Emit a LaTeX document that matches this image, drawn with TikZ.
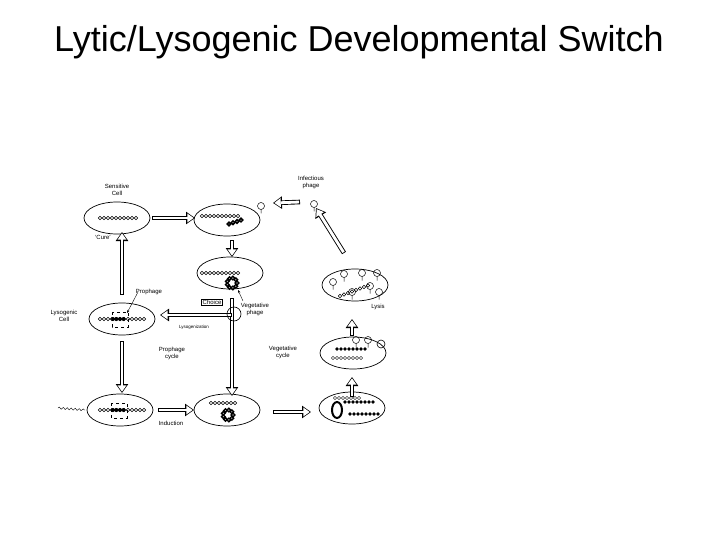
\documentclass[tikz,border=0pt]{standalone}
\usepackage{fontspec}
\setmainfont{Liberation Sans}
\usetikzlibrary{arrows.meta,shapes.geometric,decorations.pathmorphing,calc}
\newcommand\harrow[2]{%
 \draw[line width=4.6pt,-{Triangle[width=12pt,length=9pt]}] #1 -- #2;
 \draw[line width=2.8pt,white,shorten >=1.3pt,shorten <=0.9pt,-{Triangle[width=8.6pt,length=6.4pt]}] #1 -- #2;}
\newcommand\dna[3]{\foreach \i in {0,...,#3}{\draw[line width=0.5pt] ($(#1)+(\i*4,0)$) circle[radius=1.7pt];}}
\newcommand\phg[1]{\draw[line width=0.5pt] (#1) circle[radius=3.5pt] ++(0,3.5) -- ++(0,4);}
\tikzset{cell/.style={draw,ellipse,line width=0.7pt,minimum width=66pt,minimum height=32pt},
lab/.style={font=\fontsize{6}{7}\selectfont,align=center,inner sep=0.5pt}}
\begin{document}
\begin{tikzpicture}[x=1pt,y=-1pt]
\useasboundingbox (0,0) rectangle (720,540);
\node (title) at (359,42) {\fontsize{36}{40}\selectfont Lytic/Lysogenic Developmental Switch};
\node[cell] (e1) at (117,218) {};
\node[cell] (e2) at (227,220) {};
\node[cell] (e3) at (230,273) {};
\node[cell] (e4) at (122,319) {};
\node[cell] (e5) at (120,410) {};
\node[cell] (e6) at (227,410) {};
\node[cell] (e7) at (352,408) {};
\node[cell] (e8) at (353,353) {};
\node[cell] (e9) at (355,285) {};
% DNA
\dna{100,218}{}{9}
\dna{202,216}{}{9}
\dna{202,273}{}{9}
\dna{100,319}{}{11}
\dna{100,410}{}{11}
\dna{211,403}{}{6}
\foreach \i in {0,...,3}{\draw[line width=1.5pt] ($(229,224)+(\i*4,-\i*1.3)$) circle[radius=1.8pt];}
\foreach \a in {0,40,...,320}{\draw[line width=1.4pt] ($(232,283)+(\a:5)$) circle[radius=1.8pt];}
\foreach \a in {0,40,...,320}{\draw[line width=1.4pt] ($(228,415)+(\a:5)$) circle[radius=1.8pt];}
\foreach \i in {0,...,3}{\fill ($(113,319)+(\i*3.5,0)$) circle[radius=2pt]; \fill ($(113,410)+(\i*3.5,0)$) circle[radius=2pt];}
\draw[dashed,line width=0.5pt] (112,312) rectangle (128,327);
\draw[dashed,line width=0.5pt] (111,403) rectangle (127,418);
% right cells contents
\foreach \i in {0,...,7}{\draw[line width=0.6pt] ($(340,296)+(\i*4,-\i*1.5)$) circle[radius=1.7pt];}
\foreach \p in {{344,274},{362,273},{377,273},{333,282},{370,286},{352,292},{379,292}}{\phg{\p}}
\foreach \i in {0,...,7}{\fill ($(337,348)+(\i*4,1)$) circle[radius=1.8pt]; \draw ($(333,358)+(\i*4,0)$) circle[radius=1.7pt];}
\foreach \p in {{356,340},{368,340}}{\phg{\p}}
\draw[line width=0.6pt] (381,344) circle[radius=4pt];
\foreach \i in {0,...,7}{\fill ($(345,402)+(\i*4,0)$) circle[radius=1.8pt]; \fill ($(350,414)+(\i*4,0)$) circle[radius=1.8pt];}
\draw[line width=2pt] (337,410) ellipse[x radius=5pt,y radius=8pt];
\foreach \i in {0,...,6}{\draw ($(335,398)+(\i*4,0)$) circle[radius=1.6pt];}
\phg{314,204}
\phg{261,206}
% arrows
\harrow{(152,218)}{(195,218)}
\harrow{(300,202)}{(273,203)}
\harrow{(232,240)}{(232,257)}
\harrow{(122,295)}{(122,232)}
\harrow{(122,341)}{(122,393)}
\harrow{(158,410)}{(194,410)}
\harrow{(273,412)}{(311,412)}
\harrow{(352,397)}{(352,377)}
\harrow{(352,336)}{(352,319)}
\harrow{(344,253)}{(316,208)}
\harrow{(232,298)}{(232,396)}
\harrow{(232,315)}{(160,315)}
\draw[line width=0.6pt] (234,314) circle[radius=7pt];
\draw[decorate,decoration={snake,amplitude=1pt,segment length=4pt}] (58,408) -- (85,410);
% labels
\node[lab] (s) at (117,190) {Sensitive\\Cell};
\node[lab] (ip) at (311,182) {Infectious\\phage};
\node[lab] (cu) at (103,237) {`Cure'};
\node[lab] (pp) at (149,292) {Prophage};
\draw[-{Stealth[length=3pt]},line width=0.4pt] (138,292) -- (127,313);
\node[lab] (lc) at (64,316) {Lysogenic\\Cell};
\node[lab,draw,line width=0.5pt,inner sep=1pt] (ch) at (212,302) {Choice};
\node[lab] (vp) at (255,309) {Vegetative\\phage};
\draw[-{Stealth[length=3pt]},line width=0.4pt] (243,301) -- (238,290);
\node[lab,font=\fontsize{4.5}{5}\selectfont] (ly) at (194,327) {Lysogenization};
\node[lab] (pc) at (172,353) {Prophage\\cycle};
\node[lab] (vc) at (283,352) {Vegetative\\cycle};
\node[lab] (in) at (171,423) {Induction};
\node[lab] (lys) at (378,307) {Lysis};
\end{tikzpicture}
\end{document}
